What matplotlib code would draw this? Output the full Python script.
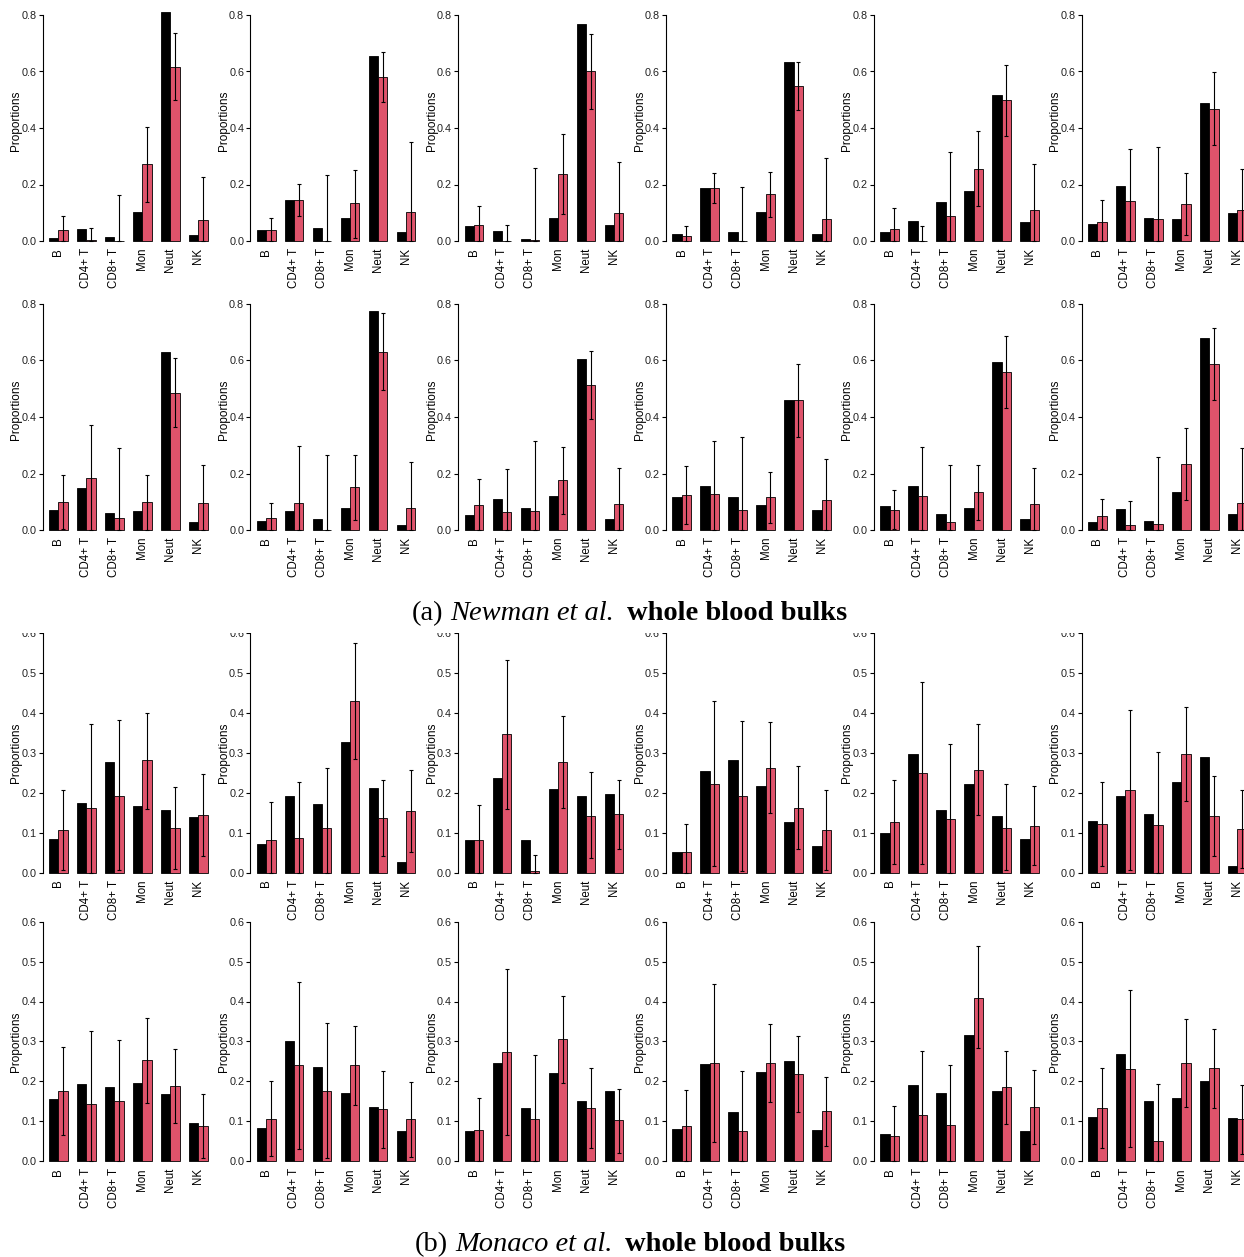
import numpy as np
import matplotlib
matplotlib.use("Agg")
import matplotlib.pyplot as plt
from matplotlib.patches import Rectangle
from matplotlib.transforms import blended_transform_factory

# cell types shown on every panel
cell_types = ["B", "CD4+ T", "CD8+ T", "Mon", "Neut", "NK"]

# (a) Newman et al. -- 12 bulks, true (black) vs estimated (red) with CI
newman_true = [
    [0.009, 0.043, 0.015, 0.102, 0.812, 0.021],
    [0.039, 0.145, 0.047, 0.080, 0.656, 0.032],
    [0.052, 0.035, 0.007, 0.082, 0.767, 0.058],
    [0.024, 0.186, 0.031, 0.104, 0.634, 0.025],
    [0.031, 0.070, 0.137, 0.177, 0.518, 0.069],
    [0.059, 0.193, 0.082, 0.078, 0.489, 0.100],
    [0.072, 0.150, 0.059, 0.066, 0.631, 0.028],
    [0.031, 0.066, 0.040, 0.078, 0.776, 0.017],
    [0.054, 0.109, 0.078, 0.120, 0.606, 0.038],
    [0.116, 0.156, 0.116, 0.090, 0.459, 0.070],
    [0.084, 0.156, 0.058, 0.077, 0.596, 0.038],
    [0.028, 0.073, 0.032, 0.136, 0.681, 0.057],
]
newman_est = [
    [0.038, 0.005, 0.001, 0.271, 0.617, 0.073],
    [0.038, 0.145, 0.001, 0.134, 0.580, 0.102],
    [0.057, 0.001, 0.005, 0.238, 0.600, 0.100],
    [0.018, 0.187, 0.001, 0.165, 0.548, 0.079],
    [0.044, 0.001, 0.089, 0.255, 0.499, 0.111],
    [0.066, 0.140, 0.079, 0.131, 0.469, 0.111],
    [0.099, 0.183, 0.043, 0.099, 0.486, 0.095],
    [0.044, 0.097, 0.001, 0.153, 0.631, 0.079],
    [0.089, 0.065, 0.069, 0.176, 0.514, 0.092],
    [0.125, 0.127, 0.072, 0.116, 0.459, 0.107],
    [0.072, 0.120, 0.027, 0.134, 0.560, 0.093],
    [0.050, 0.019, 0.020, 0.232, 0.588, 0.097],
]
newman_lo = [
    [0.0, 0.0, 0.0, 0.139, 0.499, 0.0],
    [0.0, 0.090, 0.0, 0.012, 0.493, 0.0],
    [0.0, 0.0, 0.0, 0.096, 0.466, 0.0],
    [0.0, 0.134, 0.0, 0.084, 0.462, 0.0],
    [0.0, 0.0, 0.0, 0.125, 0.372, 0.0],
    [0.0, 0.0, 0.0, 0.022, 0.339, 0.0],
    [0.005, 0.0, 0.0, 0.0, 0.363, 0.0],
    [0.0, 0.0, 0.0, 0.037, 0.496, 0.0],
    [0.0, 0.0, 0.0, 0.057, 0.392, 0.0],
    [0.021, 0.0, 0.0, 0.025, 0.330, 0.0],
    [0.005, 0.0, 0.0, 0.037, 0.431, 0.0],
    [0.005, 0.0, 0.0, 0.107, 0.460, 0.0],
]
newman_hi = [
    [0.087, 0.045, 0.164, 0.402, 0.735, 0.225],
    [0.080, 0.201, 0.232, 0.253, 0.668, 0.349],
    [0.123, 0.055, 0.259, 0.377, 0.734, 0.278],
    [0.054, 0.240, 0.192, 0.246, 0.635, 0.293],
    [0.118, 0.053, 0.314, 0.388, 0.623, 0.271],
    [0.144, 0.325, 0.331, 0.239, 0.599, 0.254],
    [0.193, 0.372, 0.292, 0.196, 0.608, 0.231],
    [0.095, 0.296, 0.266, 0.267, 0.767, 0.239],
    [0.182, 0.215, 0.314, 0.295, 0.634, 0.219],
    [0.225, 0.316, 0.328, 0.204, 0.586, 0.250],
    [0.140, 0.295, 0.231, 0.230, 0.688, 0.219],
    [0.111, 0.103, 0.257, 0.360, 0.715, 0.289],
]

# (b) Monaco et al.
monaco_true = [
    [0.084, 0.174, 0.278, 0.168, 0.157, 0.140],
    [0.071, 0.193, 0.173, 0.328, 0.213, 0.026],
    [0.083, 0.237, 0.083, 0.209, 0.193, 0.196],
    [0.053, 0.254, 0.283, 0.218, 0.128, 0.068],
    [0.100, 0.298, 0.156, 0.223, 0.142, 0.084],
    [0.129, 0.193, 0.148, 0.228, 0.289, 0.017],
    [0.157, 0.194, 0.187, 0.197, 0.168, 0.097],
    [0.083, 0.300, 0.235, 0.170, 0.135, 0.075],
    [0.075, 0.245, 0.134, 0.220, 0.150, 0.175],
    [0.080, 0.243, 0.124, 0.223, 0.252, 0.079],
    [0.069, 0.192, 0.170, 0.316, 0.176, 0.077],
    [0.112, 0.269, 0.151, 0.159, 0.201, 0.109],
]
monaco_est = [
    [0.107, 0.163, 0.193, 0.281, 0.111, 0.144],
    [0.083, 0.086, 0.113, 0.429, 0.136, 0.155],
    [0.083, 0.347, 0.005, 0.278, 0.143, 0.146],
    [0.051, 0.223, 0.193, 0.263, 0.163, 0.108],
    [0.127, 0.250, 0.134, 0.258, 0.113, 0.118],
    [0.123, 0.208, 0.120, 0.298, 0.143, 0.110],
    [0.176, 0.144, 0.152, 0.253, 0.188, 0.088],
    [0.107, 0.240, 0.177, 0.240, 0.130, 0.105],
    [0.078, 0.273, 0.107, 0.305, 0.133, 0.103],
    [0.088, 0.247, 0.076, 0.247, 0.219, 0.125],
    [0.063, 0.117, 0.090, 0.410, 0.185, 0.135],
    [0.133, 0.232, 0.052, 0.245, 0.233, 0.106],
]
monaco_lo = [
    [0.008, 0.0, 0.006, 0.159, 0.009, 0.043],
    [0.0, 0.0, 0.0, 0.284, 0.042, 0.052],
    [0.0, 0.159, 0.0, 0.163, 0.037, 0.059],
    [0.0, 0.016, 0.005, 0.150, 0.059, 0.008],
    [0.023, 0.023, 0.0, 0.145, 0.006, 0.019],
    [0.016, 0.008, 0.0, 0.179, 0.042, 0.011],
    [0.065, 0.0, 0.0, 0.147, 0.097, 0.008],
    [0.014, 0.032, 0.008, 0.142, 0.033, 0.012],
    [0.0, 0.067, 0.0, 0.197, 0.033, 0.020],
    [0.0, 0.048, 0.0, 0.148, 0.123, 0.038],
    [0.0, 0.0, 0.0, 0.283, 0.094, 0.043],
    [0.033, 0.037, 0.0, 0.135, 0.134, 0.018],
]
monaco_hi = [
    [0.208, 0.371, 0.381, 0.401, 0.214, 0.246],
    [0.178, 0.228, 0.261, 0.575, 0.231, 0.258],
    [0.169, 0.533, 0.045, 0.392, 0.252, 0.231],
    [0.123, 0.429, 0.380, 0.376, 0.268, 0.208],
    [0.231, 0.477, 0.322, 0.371, 0.221, 0.216],
    [0.228, 0.408, 0.301, 0.416, 0.243, 0.208],
    [0.287, 0.325, 0.303, 0.358, 0.280, 0.168],
    [0.200, 0.448, 0.346, 0.338, 0.225, 0.198],
    [0.159, 0.481, 0.267, 0.413, 0.234, 0.182],
    [0.178, 0.445, 0.225, 0.344, 0.313, 0.211],
    [0.139, 0.275, 0.240, 0.538, 0.275, 0.229],
    [0.233, 0.428, 0.194, 0.356, 0.332, 0.190],
]

W, H = 1244, 1257
TRUE_COL = "#000000"
EST_COL = "#DF536B"
SANS = ["Liberation Sans", "DejaVu Sans"]
SERIF = ["Liberation Serif", "DejaVu Serif"]

fig = plt.figure(figsize=(W / 100, H / 100), dpi=100)

# pixel layout per row: zero line, top tick, y limit, tick step, px per unit
rows = [
    (241.0, 0.8, 0.85, 0.2, 282.5),
    (530.0, 0.8, 0.85, 0.2, 282.5),
    (872.7, 0.6, 0.60, 0.1, 399.5),
    (1161.3, 0.6, 0.60, 0.1, 399.5),
]
col_x0 = 42.7
col_step = 207.8
unit_px = 9.33
xlo, xhi = 0.32, 18.68


def draw_panel(ax, true_v, est_v, lo_v, hi_v, top, ymax, step):
    n = len(cell_types)
    left_true = 1 + 3 * np.arange(n)
    left_est = left_true + 1
    ax.bar(left_true, true_v, width=1, align="edge", color=TRUE_COL,
           edgecolor="black", linewidth=0.6)
    ax.bar(left_est, est_v, width=1, align="edge", color=EST_COL,
           edgecolor="black", linewidth=0.6)
    est = np.array(est_v)
    yerr = [np.clip(est - np.array(lo_v), 0, None),
            np.clip(np.array(hi_v) - est, 0, None)]
    ax.errorbar(left_est + 0.5, est, yerr=yerr, fmt="none", ecolor="black",
                elinewidth=0.8, capsize=1.3, capthick=0.8)
    ax.set_xlim(xlo, xhi)
    ax.set_ylim(-0.04 * ymax, 1.04 * ymax)
    for s in ("top", "right", "bottom"):
        ax.spines[s].set_visible(False)
    ax.spines["left"].set_bounds(0, top)
    ax.spines["left"].set_linewidth(0.8)
    ticks = np.arange(0, top + 1e-9, step)
    ax.set_yticks(ticks)
    ax.set_yticklabels([f"{t:.1f}" for t in ticks], fontsize=7.8,
                       family=SANS, color="#222222")
    ax.tick_params(axis="y", length=3, width=0.8, pad=1.5)
    ax.set_xticks(left_true + 1)
    ax.set_xticklabels(cell_types, rotation=90, fontsize=8.3, family=SANS,
                       va="top", ha="center")
    ax.tick_params(axis="x", length=0, pad=-2)
    ax.set_ylabel("Proportions", fontsize=8.5, family=SANS)
    trans = blended_transform_factory(ax.transAxes, ax.transData)
    ax.yaxis.set_label_coords(-20.5 / ((xhi - xlo) * unit_px), ymax / 2,
                              transform=trans)
    ax.patch.set_visible(False)


datasets = [
    (newman_true, newman_est, newman_lo, newman_hi),
    (monaco_true, monaco_est, monaco_lo, monaco_hi),
]

for r, (y0, top, ymax, step, ppu) in enumerate(rows):
    tv, ev, lv, hv = datasets[r // 2]
    top_px = y0 - 1.04 * ymax * ppu
    bot_px = y0 + 0.04 * ymax * ppu
    for c in range(6):
        k = (r % 2) * 6 + c
        left_px = col_x0 + col_step * c
        width_px = (xhi - xlo) * unit_px
        ax = fig.add_axes([left_px / W, 1 - bot_px / H, width_px / W,
                           (bot_px - top_px) / H])
        draw_panel(ax, tv[k], ev[k], lv[k], hv[k], top, ymax, step)

# the lower block was cropped just above its top tick label
fig.patches.append(Rectangle((0, 1 - 632.5 / H), 1, 18 / H,
                             transform=fig.transFigure, facecolor="white",
                             edgecolor="none", zorder=5))


def caption(cx_px, base_px, parts, gaps, size=20.5):
    texts = []
    for s, style, weight in parts:
        t = fig.text(0, 1 - base_px / H, s, fontsize=size, family=SERIF,
                     style=style, weight=weight, va="baseline", ha="left",
                     zorder=6)
        texts.append(t)
    fig.canvas.draw()
    rend = fig.canvas.get_renderer()
    widths = [t.get_window_extent(rend).width for t in texts]
    em = size * 100 / 72
    gap_px = [g * em for g in gaps] + [0]
    total = sum(widths) + sum(gap_px)
    x = cx_px - total / 2
    for t, w, g in zip(texts, widths, gap_px):
        t.set_x(x / W)
        x += w + g


caption(629.5, 620, [("(a)", "normal", "normal"),
                     ("Newman et al.", "italic", "normal"),
                     ("whole blood bulks", "normal", "bold")], [0.25, 0.45])
caption(630, 1251, [("(b)", "normal", "normal"),
                    ("Monaco et al.", "italic", "normal"),
                    ("whole blood bulks", "normal", "bold")], [0.25, 0.45])

fig.savefig("out.png", dpi=100)
